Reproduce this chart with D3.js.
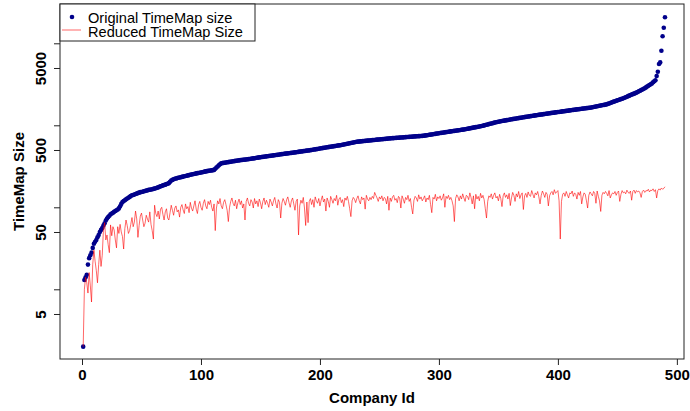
<!DOCTYPE html>
<html>
<head>
<meta charset="utf-8">
<script src="https://cdn.jsdelivr.net/npm/d3@7"></script>
<style>
  body { margin: 0; background: #fff; }
  text { font-family: "Liberation Sans", Arial, sans-serif; }
</style>
</head>
<body>
<div id="chart"></div>
<script>
// original TimeMap size per company (sorted ascending)
const originalSize = [
  2, 13, 14, 15, 20, 24, 26, 28, 32, 36, 38, 40, 43, 46, 50, 53, 56, 60, 64, 69, 73, 76, 79, 82, 84, 86, 88, 90, 92, 94, 97,
  103, 110, 116, 119, 122, 125, 128, 131, 134, 137, 140, 141, 143, 145, 147, 149, 151, 153, 154, 155, 157, 158, 160, 161, 163,
  164, 165, 166, 168, 169, 171, 173, 175, 178, 180, 182, 185, 187, 189, 192, 194, 197,
  205, 212, 216, 220, 223, 225, 227, 229, 231, 233, 235, 237, 239, 241, 243, 245, 247, 249, 251, 253, 255, 257, 259, 261, 262,
  264, 266, 268, 270, 272, 274, 276, 278, 279, 281, 282, 284, 286,
  295, 305, 315, 325, 335, 344,
  346, 348, 350, 352, 354, 356, 358, 360, 362, 364, 366, 368, 370, 372, 374, 376, 377, 379, 380, 382, 383, 385,
  387, 389, 391, 393, 395, 397, 399, 402, 404, 406, 408, 410, 412, 414, 416, 418, 420, 422, 424, 426, 428, 430, 432, 434, 436, 438, 440, 443,
  445, 447, 449, 451, 453, 455, 457, 459, 461, 463, 465,
  467, 470, 472, 474, 477, 479, 481, 484, 486, 488, 491, 493, 495, 498, 500,
  503, 506, 509, 512, 515, 518, 521, 524, 527, 530, 533, 536, 539, 542, 545, 548, 551, 554, 557, 560, 563, 566, 569, 572,
  576, 580, 584, 588, 592, 596, 600, 604, 608, 612, 617, 621, 626, 630,
  632, 634, 636, 639, 641, 643, 645, 648, 650, 652, 654, 657, 659, 661, 663, 666, 668, 670, 672, 675, 677, 679, 681, 684, 686, 688, 690, 693,
  695, 697, 698, 700, 702, 704, 706, 708, 710, 711, 713, 715, 717, 719, 721, 723, 724, 726, 728, 730, 732, 734, 736, 737, 739, 741, 743, 745,
  749, 753, 757, 761, 766, 770, 774, 779, 783, 787, 792, 796, 800, 804, 809, 813, 817, 821, 826, 830, 834, 838, 843, 847, 851,
  855, 860, 864, 868, 872, 877, 881, 885, 889, 894,
  900, 906, 912, 918, 925, 931, 937, 943, 949, 955, 962, 968, 974, 980,
  989, 998, 1007, 1016, 1025, 1034, 1043, 1052, 1061, 1070, 1080, 1089, 1098, 1107,
  1114, 1121, 1128, 1135, 1142, 1148, 1155, 1162, 1169, 1176, 1183, 1190, 1197, 1204, 1210, 1217, 1224, 1231, 1238, 1245,
  1252, 1259, 1266, 1273, 1279, 1286, 1293, 1300,
  1307, 1314, 1320, 1327, 1334, 1341, 1348, 1354, 1361, 1368, 1375, 1382, 1389, 1395, 1402, 1409, 1416, 1423, 1429, 1436,
  1443, 1450, 1456, 1463, 1470,
  1477, 1484, 1491, 1498, 1505, 1512, 1520, 1527, 1534, 1541, 1548, 1555, 1562, 1569, 1576, 1583, 1590, 1598, 1605, 1612,
  1619, 1626, 1633, 1640,
  1651, 1663, 1674, 1686, 1697, 1709, 1720, 1731, 1743, 1754, 1766, 1777, 1789, 1800,
  1824, 1848, 1872, 1895, 1919, 1943, 1967, 1991, 2015, 2039, 2062, 2086, 2110, 2134,
  2167, 2200, 2234, 2267, 2300, 2334, 2367, 2400, 2434, 2467, 2500,
  2547, 2594, 2641, 2689, 2736, 2783, 2830,
  2900, 2970, 3030, 3100, 3170, 3240,
  3350, 3450, 3550, 4000, 4500, 5600, 5850, 8100, 12200, 15500, 20800
];

// reduced TimeMap size, same company order
const reducedSize = [
  2, 10, 14, 12, 9, 16, 11, 7, 20, 30,
  22, 17, 12, 20, 30, 19, 26, 53, 65, 40,
  46, 35, 28, 61, 45, 58, 53, 40, 32, 58,
  48, 62, 50, 44, 31, 55, 70, 60, 48, 52,
  62, 75, 58, 66, 90, 72, 43, 60, 78, 85,
  70, 58, 64, 80, 72, 66, 88, 62, 52, 41,
  106, 84, 77, 90, 72, 95, 100, 82, 70, 88,
  96, 74, 70, 86, 106, 92, 80, 98, 104, 88,
  93, 76, 100, 108, 93, 84, 110, 96, 102, 86,
  115, 98, 90, 104, 120, 95, 84, 108, 118, 100,
  92, 112, 124, 104, 96, 118, 108, 122, 100, 90,
  110, 52, 98, 120, 110, 128, 104, 96, 115, 124,
  108, 92, 67, 100, 118, 130, 112, 104, 122, 96,
  114, 126, 108, 120, 98, 110, 70, 118, 130, 112,
  104, 124, 116, 98, 128, 110, 120, 102, 126, 114,
  96, 118, 130, 108, 122, 112, 100, 126, 116, 104,
  120, 132, 110, 98, 124, 115, 74, 112, 128, 118,
  106, 124, 134, 114, 100, 120, 130, 110, 92, 118,
  126, 46, 104, 122, 112, 132, 98, 60, 116, 65,
  118, 128, 108, 124, 100, 134, 120, 112, 128, 104,
  122, 138, 116, 126, 90, 130, 118, 100, 136, 124,
  112, 128, 120, 140, 106, 126, 132, 114, 124, 102,
  130, 122, 136, 118, 96, 77, 120, 132, 126, 114,
  128, 138, 120, 110, 134, 124, 130, 95, 140, 126,
  120, 132, 124, 136, 128, 152, 140, 130, 118, 134,
  126, 138, 120, 132, 128, 110, 136, 92, 130, 118,
  134, 140, 122, 128, 114, 136, 130, 98, 138, 126,
  112, 132, 124, 140, 118, 128, 100, 83, 122, 136,
  130, 118, 142, 126, 134, 120, 128, 138, 116, 130,
  124, 140, 108, 86, 132, 126, 144, 120, 134, 128,
  138, 122, 130, 146, 100, 136, 128, 140, 124, 132,
  120, 104, 67, 128, 142, 134, 120, 138, 126, 146,
  130, 118, 140, 136, 124, 150, 132, 110, 138, 96,
  144, 126, 136, 120, 148, 130, 140, 124, 96, 74,
  118, 138, 132, 146, 126, 140, 150, 130, 136, 120,
  144, 128, 102, 138, 150, 132, 142, 126, 148, 105,
  130, 152, 140, 118, 146, 134, 156, 128, 142, 150,
  94, 138, 148, 132, 154, 140, 136, 160, 144, 130,
  150, 142, 156, 134, 110, 140, 158, 146, 132, 152,
  144, 104, 138, 150, 156, 142, 164, 148, 154, 160,
  120, 41, 118, 144, 150, 136, 156, 142, 130, 150,
  146, 158, 136, 150, 144, 126, 152, 140, 156, 110,
  134, 150, 144, 120, 98, 140, 154, 146, 138, 156,
  148, 112, 158, 136, 120, 89, 140, 152, 146, 156,
  148, 138, 160, 130, 142, 150, 146, 156, 140, 152,
  158, 118, 144, 160, 150, 154, 146, 162, 152, 148,
  158, 122, 156, 162, 148, 160, 154, 158, 150, 132,
  156, 162, 152, 160, 158, 166, 154, 162, 160, 168,
  156, 164, 130, 160, 168, 162, 172, 166, 170, 178
];

const xTicks = [0, 100, 200, 300, 400, 500];
const yTicks = [5, 10, 50, 100, 500, 1000, 5000, 10000];
const yLabels = ["5", "", "50", "", "500", "", "5000", ""];
const legendLabels = ["Original TimeMap size", "Reduced TimeMap Size"];

const companyId = d3.range(1, originalSize.length + 1);

const W = 690, H = 411;
const plot = { left: 60, right: 684, top: 4, bottom: 359 };
const blue = "#00008b", red = "#ff0000";

const svg = d3.select("#chart").append("svg")
  .attr("width", W).attr("height", H);

const x = d3.scaleLinear().domain([-18.5, 506]).range([plot.left, plot.right]);
const y = d3.scaleLog().domain([1.413, 30150]).range([plot.bottom, plot.top]);

// points (original)
svg.append("g")
  .selectAll("circle")
  .data(originalSize)
  .join("circle")
  .attr("cx", (d, i) => x(companyId[i]))
  .attr("cy", d => y(d))
  .attr("r", 2.3)
  .attr("fill", blue);

// line (reduced)
const line = d3.line()
  .x((d, i) => x(companyId[i]))
  .y(d => y(d));

svg.append("path")
  .datum(reducedSize)
  .attr("d", line)
  .attr("fill", "none")
  .attr("stroke", red)
  .attr("stroke-width", 0.6)
  .attr("stroke-linejoin", "round");

// x axis
const xAxis = svg.append("g")
  .attr("transform", `translate(0,${plot.bottom})`)
  .call(d3.axisBottom(x).tickValues(xTicks).tickSize(6).tickPadding(4).tickFormat(d3.format("d")));
xAxis.select(".domain").remove();
xAxis.selectAll("line").attr("stroke", "#222");
xAxis.selectAll("text")
  .attr("font-family", "Liberation Sans, Arial, sans-serif")
  .attr("font-size", 15).attr("font-weight", "bold").attr("fill", "#000");

// y axis
const yAxis = svg.append("g")
  .attr("transform", `translate(${plot.left},0)`)
  .call(d3.axisLeft(y).tickValues(yTicks).tickSize(6).tickFormat((d, i) => yLabels[i]));
yAxis.select(".domain").remove();
yAxis.selectAll("line").attr("stroke", "#222");
yAxis.selectAll("text")
  .attr("font-family", "Liberation Sans, Arial, sans-serif")
  .attr("font-size", 15).attr("font-weight", "bold").attr("fill", "#000")
  .attr("text-anchor", "middle")
  .attr("dy", null)
  .attr("x", null)
  .attr("transform", "translate(-14,0) rotate(-90)");

// frame
svg.append("rect")
  .attr("x", plot.left).attr("y", plot.top)
  .attr("width", plot.right - plot.left).attr("height", plot.bottom - plot.top)
  .attr("fill", "none").attr("stroke", "#222").attr("stroke-width", 1);

// axis titles
svg.append("text")
  .attr("x", (plot.left + plot.right) / 2).attr("y", 403)
  .attr("text-anchor", "middle")
  .attr("font-size", 15).attr("font-weight", "bold")
  .text("Company Id");

svg.append("text")
  .attr("transform", `translate(24,${(plot.top + plot.bottom) / 2}) rotate(-90)`)
  .attr("text-anchor", "middle")
  .attr("font-size", 15).attr("font-weight", "bold")
  .text("TimeMap Size");

// legend
const lg = svg.append("g");
lg.append("rect")
  .attr("x", plot.left).attr("y", plot.top)
  .attr("width", 195).attr("height", 37)
  .attr("fill", "#fff").attr("stroke", "#222").attr("stroke-width", 1);
lg.append("circle").attr("cx", 72).attr("cy", 17).attr("r", 2.3).attr("fill", blue);
lg.append("line").attr("x1", 62).attr("x2", 81).attr("y1", 30).attr("y2", 30)
  .attr("stroke", red).attr("stroke-width", 0.6);
lg.selectAll("text.lbl")
  .data(legendLabels)
  .join("text")
  .attr("class", "lbl")
  .attr("x", 88)
  .attr("y", (d, i) => 22.5 + i * 14)
  .attr("font-size", 14.6)
  .text(d => d);
</script>
</body>
</html>
